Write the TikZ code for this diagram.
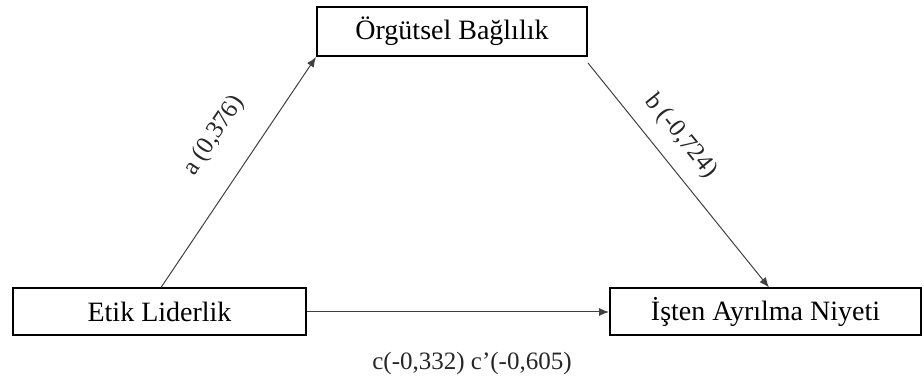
\documentclass[tikz,border=0pt]{standalone}
\usepackage{fontspec}
\setmainfont{Liberation Serif}
\usetikzlibrary{arrows.meta}
\begin{document}
\begin{tikzpicture}[x=0.5pt,y=-0.5pt,
  box/.style={draw=black,line width=1pt,inner sep=0pt,font=\fontsize{14}{16}\selectfont},
  conn/.style={draw=black!75,line width=0.5pt,-{Latex[length=5pt,width=4pt]}},
  lab/.style={font=\fontsize{12.5}{14}\selectfont,text=black!85}]
\useasboundingbox (0,0) rectangle (924,383);
\node[box,minimum width=135pt,minimum height=24.5pt] (top) at (452,31.5) {Örgütsel Bağlılık};
\node[box,minimum width=146.5pt,minimum height=23.5pt] (left) at (159.5,312) {Etik Liderlik};
\node[box,minimum width=155.5pt,minimum height=23.5pt] (right) at (765.5,312) {İşten Ayrılma Niyeti};
\draw[conn] ([xshift=74.5pt]left.north west) -- node[lab,sloped,above=11pt,pos=0.56] (la) {a (0,376)} (top.south west);
\draw[conn] ([yshift=-3pt]top.south east) -- node[lab,sloped,above=4pt,pos=0.40] (lb) {b (-0,724)} ([xshift=80pt]right.north west);
\draw[conn] (left.east) -- (right.west);
\node[lab] (lc) at (472,363) {c(-0,332) c’(-0,605)};
\end{tikzpicture}
\end{document}
